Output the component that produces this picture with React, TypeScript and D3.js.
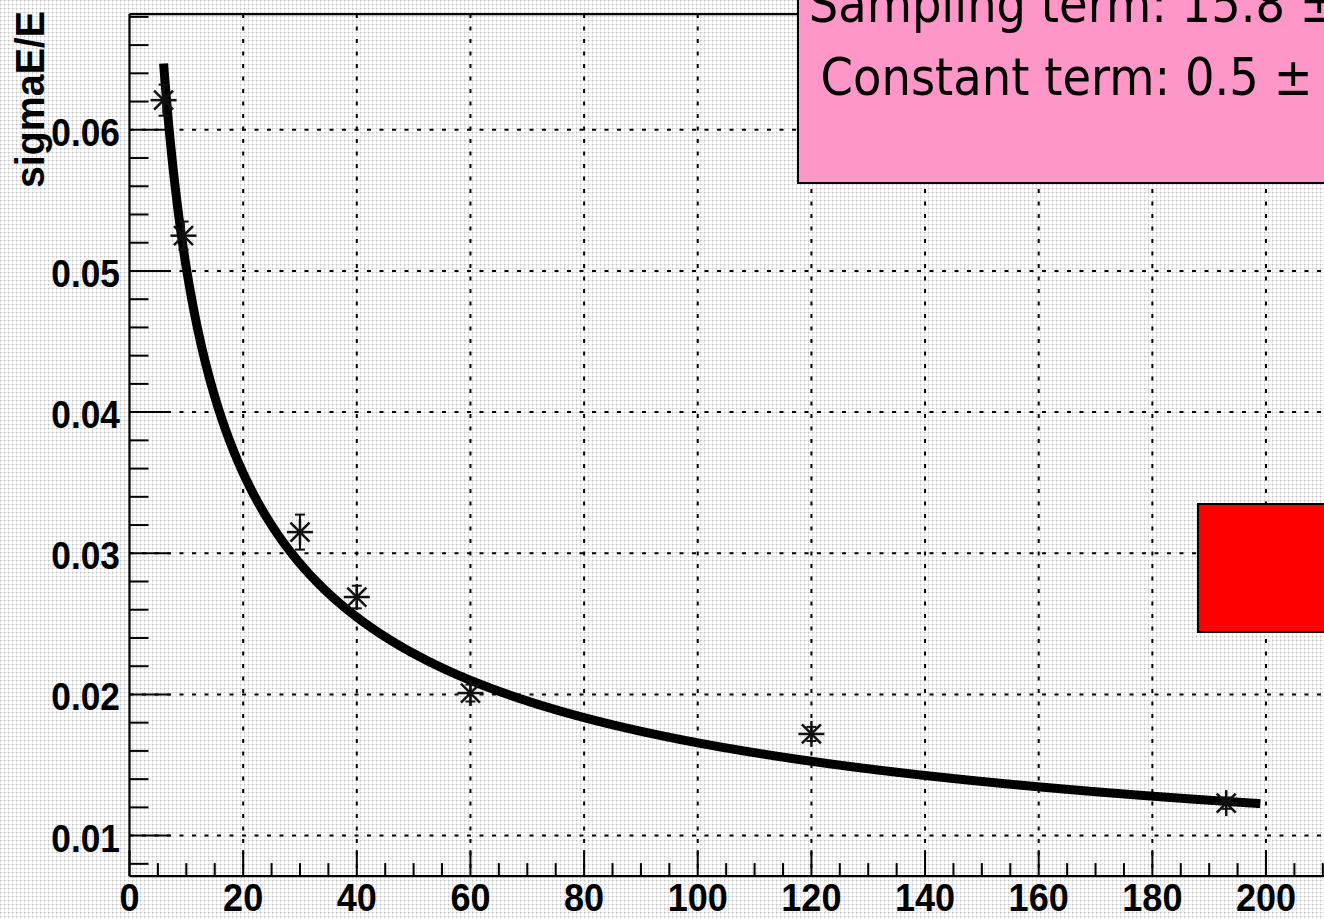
import React from 'react';
import * as d3 from 'd3';

// Beam energy (GeV) and measured relative energy resolution
const energies = [6, 9.5, 30, 40, 60, 120, 193];
const resolution = [0.0621, 0.0525, 0.0315, 0.0269, 0.0201, 0.0172, 0.0123];
const resolutionErr = [0.0011, 0.001, 0.00124, 0.0008, 0.0006, 0.0005, 0.0004];

// Axis ticks
const xTickValues = [0, 20, 40, 60, 80, 100, 120, 140, 160, 180, 200];
const xTickLabels = ['0', '20', '40', '60', '80', '100', '120', '140', '160', '180', '200'];
const yTickValues = [0.01, 0.02, 0.03, 0.04, 0.05, 0.06];
const yTickLabels = ['0.01', '0.02', '0.03', '0.04', '0.05', '0.06'];

// Fit result (percent) and fit range (GeV)
const samplingTerm = 15.8;
const constantTerm = 0.5;
const fitRange = [6, 199];

const W = 1324;
const H = 919;

// Frame limits in data units
const X_MAX = 216;
const Y_MIN = 0.00713;
const Y_MAX = 0.0682;

const x = d3.scaleLinear().domain([0, 200]).range([129.5, 1266]);
const y = d3.scaleLinear().domain([0.01, 0.06]).range([835.6, 129.8]);

const AXIS_FONT = '"Liberation Sans", Arial, Helvetica, sans-serif';
const BOX_FONT = '"DejaVu Sans", Verdana, sans-serif';

function Star({ cx, cy }: { cx: number; cy: number }) {
  const r = 13;
  const d = 9.5;
  return (
    <g stroke="#111" strokeWidth={2.5} strokeLinecap="butt">
      <line x1={cx - r} y1={cy} x2={cx + r} y2={cy} />
      <line x1={cx} y1={cy - r} x2={cx} y2={cy + r} />
      <line x1={cx - d} y1={cy - d} x2={cx + d} y2={cy + d} />
      <line x1={cx - d} y1={cy + d} x2={cx + d} y2={cy - d} />
    </g>
  );
}

export default function App() {
  const left = x(0);
  const right = x(X_MAX);
  const top = y(Y_MAX);
  const bottom = y(Y_MIN);

  const xMinor = d3.range(0, X_MAX + 0.1, 5).filter((v) => v % 20 !== 0);
  const yMinor = d3.range(0.008, Y_MAX + 0.0001, 0.002).filter(
    (v) => Math.abs(v * 100 - Math.round(v * 100)) > 1e-6
  );

  const a = samplingTerm / 100;
  const b = constantTerm / 100;
  const fitPts = d3
    .range(fitRange[0], fitRange[1] + 1e-9, 0.25)
    .map((e) => [e, Math.sqrt((a * a) / e + b * b)] as [number, number]);
  const fitPath = d3
    .line<[number, number]>()
    .x((d) => x(d[0]))
    .y((d) => y(d[1]))
    .curve(d3.curveMonotoneX)(fitPts);

  const points = energies.map((e, i) => ({ e, v: resolution[i], err: resolutionErr[i] }));

  return (
    <svg
      width={W}
      height={H}
      viewBox={`0 0 ${W} ${H}`}
      style={{ position: 'absolute', left: 0, top: 0, display: 'block', overflow: 'hidden' }}
    >
      <defs>
        <pattern id="dots" width={4} height={4} patternUnits="userSpaceOnUse">
          <rect width={4} height={4} fill="#ffffff" />
          <rect x={0} y={0} width={4} height={1} fill="#ececec" />
          <rect x={0} y={0} width={1} height={4} fill="#ececec" />
          <rect x={0} y={0} width={1.3} height={1.3} fill="#c2c2c2" />
        </pattern>
      </defs>
      <rect width={W} height={H} fill="url(#dots)" />

      {/* grid */}
      <g stroke="#000" strokeWidth={2} strokeDasharray="4 8.5">
        {xTickValues
          .filter((v) => v > 0)
          .map((v) => (
            <line key={`gx${v}`} x1={x(v)} x2={x(v)} y1={top} y2={bottom} />
          ))}
        {yTickValues.map((v) => (
          <line key={`gy${v}`} x1={left} x2={right} y1={y(v)} y2={y(v)} />
        ))}
      </g>

      {/* ticks */}
      <g stroke="#000" strokeWidth={2}>
        {xTickValues.map((v) => (
          <line key={`tx${v}`} x1={x(v)} x2={x(v)} y1={bottom} y2={bottom - 26} />
        ))}
        {xMinor.map((v) => (
          <line key={`mx${v}`} x1={x(v)} x2={x(v)} y1={bottom} y2={bottom - 13} />
        ))}
        {yTickValues.map((v) => (
          <line key={`ty${v}`} x1={left} x2={left + 41} y1={y(v)} y2={y(v)} />
        ))}
        {yMinor.map((v) => (
          <line key={`my${v}`} x1={left} x2={left + 19} y1={y(v)} y2={y(v)} />
        ))}
      </g>

      {/* frame */}
      <g stroke="#000" strokeWidth={2.2} fill="none">
        <line x1={left} x2={right} y1={top} y2={top} />
        <line x1={left} x2={left} y1={top} y2={bottom} />
        <line x1={left} x2={right} y1={bottom} y2={bottom} />
      </g>

      {/* fit curve */}
      <path d={fitPath ?? ''} fill="none" stroke="#000" strokeWidth={9} strokeLinecap="butt" />

      {/* data */}
      {points.map((p, i) => {
        const cx = x(p.e);
        const y1 = y(p.v + p.err);
        const y2 = y(p.v - p.err);
        return (
          <g key={`pt${i}`}>
            <g stroke="#111" strokeWidth={2}>
              <line x1={cx} x2={cx} y1={y1} y2={y2} />
              <line x1={cx - 5} x2={cx + 5} y1={y1} y2={y1} />
              <line x1={cx - 5} x2={cx + 5} y1={y2} y2={y2} />
            </g>
            <Star cx={cx} cy={y(p.v)} />
          </g>
        );
      })}

      {/* axis labels */}
      <g fontFamily={AXIS_FONT} fontWeight="bold" fontSize={38} fill="#000">
        {xTickValues.map((v, i) => (
          <text
            key={`lx${v}`}
            transform={`translate(${x(v)},911) scale(0.95,1)`}
            textAnchor="middle"
          >
            {xTickLabels[i]}
          </text>
        ))}
        {yTickValues.map((v, i) => (
          <text
            key={`ly${v}`}
            transform={`translate(120,${y(v) + 16}) scale(0.93,1)`}
            textAnchor="end"
          >
            {yTickLabels[i]}
          </text>
        ))}
      </g>
      <text
        transform="translate(44,11) rotate(-90)"
        textAnchor="end"
        fontFamily={AXIS_FONT}
        fontWeight="bold"
        fontSize={40}
        textLength={177}
        lengthAdjust="spacingAndGlyphs"
        fill="#000"
      >
        sigmaE/E
      </text>

      {/* fit result box */}
      <rect x={798} y={-20} width={600} height={203} fill="#ff96c8" stroke="#000" strokeWidth={2} />
      <g fontFamily={BOX_FONT} fontSize={51} fill="#000">
        <text x={808.7} y={22} textLength={530} lengthAdjust="spacingAndGlyphs">
          {`Sampling term: ${samplingTerm} \u00b1`}
        </text>
        <text x={820.6} y={95} textLength={492} lengthAdjust="spacingAndGlyphs">
          {`Constant term: ${constantTerm} \u00b1`}
        </text>
      </g>

      {/* legend patch */}
      <rect x={1198} y={504} width={200} height={128} fill="#ff0000" stroke="#000" strokeWidth={2} />
    </svg>
  );
}
